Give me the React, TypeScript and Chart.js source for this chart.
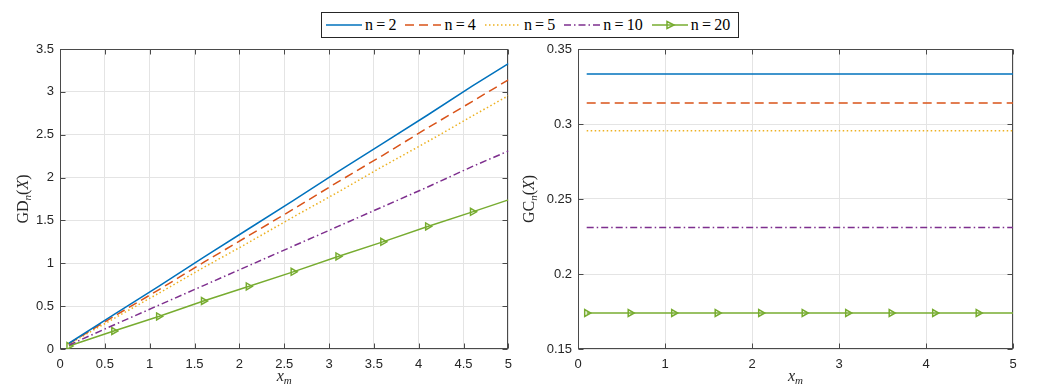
import React, { useEffect, useRef } from "react";
import { Chart, registerables } from "chart.js";
Chart.register(...registerables);

// ---------- data ----------
const xm = [0.1, 0.6, 1.1, 1.6, 2.1, 2.6, 3.1, 3.6, 4.1, 4.6, 5];
const seriesLabels = ["n=2", "n=4", "n=5", "n=10", "n=20"];

const gdN2 = [0.067, 0.4, 0.73, 1.07, 1.4, 1.73, 2.07, 2.4, 2.73, 3.07, 3.33];
const gdN4 = [0.063, 0.38, 0.69, 1.01, 1.32, 1.63, 1.95, 2.26, 2.58, 2.89, 3.14];
const gdN5 = [0.059, 0.355, 0.65, 0.95, 1.24, 1.54, 1.83, 2.13, 2.42, 2.72, 2.955];
const gdN10 = [0.046, 0.28, 0.51, 0.74, 0.97, 1.2, 1.43, 1.66, 1.89, 2.13, 2.31];
const gdN20 = [0.035, 0.21, 0.38, 0.56, 0.73, 0.9, 1.08, 1.25, 1.43, 1.6, 1.74];

const gcN2 = [0.3333, 0.3333, 0.3333, 0.3333, 0.3333, 0.3333, 0.3333, 0.3333, 0.3333, 0.3333, 0.3333];
const gcN4 = [0.314, 0.314, 0.314, 0.314, 0.314, 0.314, 0.314, 0.314, 0.314, 0.314, 0.314];
const gcN5 = [0.2955, 0.2955, 0.2955, 0.2955, 0.2955, 0.2955, 0.2955, 0.2955, 0.2955, 0.2955, 0.2955];
const gcN10 = [0.231, 0.231, 0.231, 0.231, 0.231, 0.231, 0.231, 0.231, 0.231, 0.231, 0.231];
const gcN20 = [0.174, 0.174, 0.174, 0.174, 0.174, 0.174, 0.174, 0.174, 0.174, 0.174, 0.174];

const leftXTicks = [0, 0.5, 1, 1.5, 2, 2.5, 3, 3.5, 4, 4.5, 5];
const leftYTicks = [0, 0.5, 1, 1.5, 2, 2.5, 3, 3.5];
const rightXTicks = [0, 1, 2, 3, 4, 5];
const rightYTicks = [0.15, 0.2, 0.25, 0.3, 0.35];

// ---------- styles ----------
const colors = ["#0072BD", "#D95319", "#EDB120", "#7E2F8E", "#77AC30"];
const dashes: number[][] = [[], [9, 5], [1.5, 2.5], [7, 3, 1.5, 3], []];
const TEXT = "#262626";
const FRAME = "#4a4a4a";
const GRID = "#e4e4e4";

type Seg = { t: string; it?: boolean; sub?: boolean };

function drawRich(ctx: CanvasRenderingContext2D, segs: Seg[], cx: number, cy: number, rot: number) {
  const font = (s: Seg) => `${s.it ? "italic " : ""}${s.sub ? 11 : 16}px "Liberation Serif"`;
  let w = 0;
  segs.forEach((s) => {
    ctx.font = font(s);
    w += ctx.measureText(s.t).width;
  });
  ctx.save();
  ctx.translate(cx, cy);
  ctx.rotate(rot);
  ctx.fillStyle = TEXT;
  ctx.textBaseline = "middle";
  ctx.textAlign = "left";
  let x = -w / 2;
  segs.forEach((s) => {
    ctx.font = font(s);
    ctx.fillText(s.t, x, s.sub ? 4 : 0);
    x += ctx.measureText(s.t).width;
  });
  ctx.restore();
}

const frameTitles = {
  id: "frameTitles",
  beforeDatasetsDraw(chart: any, _args: any, opts: any) {
    const { ctx, chartArea: a } = chart;
    ctx.save();
    ctx.strokeStyle = FRAME;
    ctx.lineWidth = 1;
    const L = Math.round(a.left) + 0.5;
    const T = Math.round(a.top) + 0.5;
    const R = Math.round(a.right) - 0.5;
    const B = Math.round(a.bottom) - 0.5;
    ctx.strokeRect(L, T, R - L, B - T);
    const xs = chart.scales.x;
    const ys = chart.scales.y;
    ctx.beginPath();
    xs.ticks.forEach((t: any) => {
      const px = Math.round(xs.getPixelForValue(t.value)) + 0.5;
      ctx.moveTo(px, B);
      ctx.lineTo(px, B - 5);
      ctx.moveTo(px, T);
      ctx.lineTo(px, T + 5);
    });
    ys.ticks.forEach((t: any) => {
      const py = Math.round(ys.getPixelForValue(t.value)) + 0.5;
      ctx.moveTo(L, py);
      ctx.lineTo(L + 5, py);
      ctx.moveTo(R, py);
      ctx.lineTo(R - 5, py);
    });
    ctx.stroke();
    ctx.restore();
  },
  afterDraw(chart: any, _args: any, opts: any) {
    const { ctx, chartArea: a } = chart;
    drawRich(ctx, opts.yTitle, opts.yTitleX, (a.top + a.bottom) / 2, -Math.PI / 2);
    drawRich(ctx, [{ t: "x", it: true }, { t: "m", it: true, sub: true }], (a.left + a.right) / 2, 377, 0);
  },
};

function makeDatasets(ys: number[][]) {
  return ys.map((vals, k) => {
    const isMarked = k === 4;
    return {
      label: seriesLabels[k],
      data: xm.map((x, i) => ({ x, y: vals[i] })),
      borderColor: colors[k],
      backgroundColor: colors[k],
      borderWidth: 1.5,
      borderDash: dashes[k],
      fill: false,
      tension: 0,
      pointStyle: "triangle",
      rotation: 90,
      pointRadius: isMarked ? xm.map((_, i) => (i < xm.length - 1 ? 4 : 0)) : 0,
      pointHoverRadius: 0,
      pointBorderColor: colors[k],
      pointBackgroundColor: "rgba(255,255,255,0)",
      pointBorderWidth: 1.5,
    };
  });
}

function fmt(v: number) {
  return String(Math.round(v * 1000) / 1000);
}

function makeConfig(
  ys: number[][],
  xTicks: number[],
  yTicks: number[],
  yMin: number,
  yMax: number,
  yAxisWidth: number,
  padRight: number,
  yTitle: Seg[],
  yTitleX: number
): any {
  return {
    type: "line",
    data: { datasets: makeDatasets(ys) },
    plugins: [frameTitles],
    options: {
      responsive: false,
      animation: false,
      events: [],
      layout: { padding: { top: 49, right: padRight, left: 0, bottom: 0 } },
      plugins: {
        legend: { display: false },
        tooltip: { enabled: false },
        frameTitles: { yTitle, yTitleX },
      },
      scales: {
        x: {
          type: "linear",
          min: 0,
          max: 5,
          afterBuildTicks: (s: any) => {
            s.ticks = xTicks.map((v) => ({ value: v }));
          },
          afterFit: (s: any) => {
            s.height = 40;
          },
          ticks: {
            callback: (v: any) => fmt(Number(v)),
            color: TEXT,
            font: { family: '"Liberation Sans", Arial, sans-serif', size: 13 },
            padding: 8,
            maxRotation: 0,
            autoSkip: false,
          },
          grid: { color: GRID, drawTicks: false, lineWidth: 1 },
          border: { display: false },
        },
        y: {
          type: "linear",
          min: yMin,
          max: yMax,
          afterBuildTicks: (s: any) => {
            s.ticks = yTicks.map((v) => ({ value: v }));
          },
          afterFit: (s: any) => {
            s.width = yAxisWidth;
          },
          ticks: {
            callback: (v: any) => fmt(Number(v)),
            color: TEXT,
            font: { family: '"Liberation Sans", Arial, sans-serif', size: 13 },
            padding: 6,
            autoSkip: false,
          },
          grid: { color: GRID, drawTicks: false, lineWidth: 1 },
          border: { display: false },
        },
      },
    },
  };
}

function LegendSample({ k }: { k: number }) {
  return (
    <svg width={36} height={10} style={{ display: "block" }}>
      <line
        x1={0}
        y1={5}
        x2={36}
        y2={5}
        stroke={colors[k]}
        strokeWidth={1.5}
        strokeDasharray={dashes[k].length ? dashes[k].join(" ") : undefined}
      />
      {k === 4 ? (
        <polygon points="15,1.5 22,5 15,8.5" fill="none" stroke={colors[k]} strokeWidth={1.5} />
      ) : null}
    </svg>
  );
}

export default function App() {
  const leftRef = useRef<HTMLCanvasElement>(null);
  const rightRef = useRef<HTMLCanvasElement>(null);

  useEffect(() => {
    const left = new Chart(
      leftRef.current!,
      makeConfig(
        [gdN2, gdN4, gdN5, gdN10, gdN20],
        leftXTicks,
        leftYTicks,
        0,
        3.5,
        60,
        10,
        [{ t: "GD" }, { t: "n", it: true, sub: true }, { t: "(" }, { t: "X", it: true }, { t: ")" }],
        24
      )
    );
    const right = new Chart(
      rightRef.current!,
      makeConfig(
        [gcN2, gcN4, gcN5, gcN10, gcN20],
        rightXTicks,
        rightYTicks,
        0.15,
        0.35,
        66,
        33,
        [{ t: "GC" }, { t: "n", it: true, sub: true }, { t: "(" }, { t: "X", it: true }, { t: ")" }],
        18
      )
    );
    return () => {
      left.destroy();
      right.destroy();
    };
  }, []);

  return (
    <div
      style={{
        position: "absolute",
        left: 0,
        top: 0,
        width: 1046,
        height: 389,
        background: "#fff",
        overflow: "hidden",
      }}
    >
      <canvas ref={leftRef} width={520} height={389} style={{ position: "absolute", left: 0, top: 0 }} />
      <canvas ref={rightRef} width={534} height={389} style={{ position: "absolute", left: 512, top: 0 }} />
      <div
        style={{
          position: "absolute",
          left: 321,
          top: 12,
          width: 418,
          height: 26,
          boxSizing: "border-box",
          border: "1px solid #262626",
          background: "#fff",
          display: "flex",
          alignItems: "center",
          paddingLeft: 4,
          fontFamily: '"Liberation Serif", serif',
          fontSize: 16,
          color: "#000",
          whiteSpace: "nowrap",
        }}
      >
        {seriesLabels.map((lab, k) => (
          <div key={lab} style={{ display: "flex", alignItems: "center", marginRight: 9 }}>
            <LegendSample k={k} />
            <span style={{ marginLeft: 3 }}>
              {lab.replace("=", "\u2009=\u2009")}
            </span>
          </div>
        ))}
      </div>
    </div>
  );
}
